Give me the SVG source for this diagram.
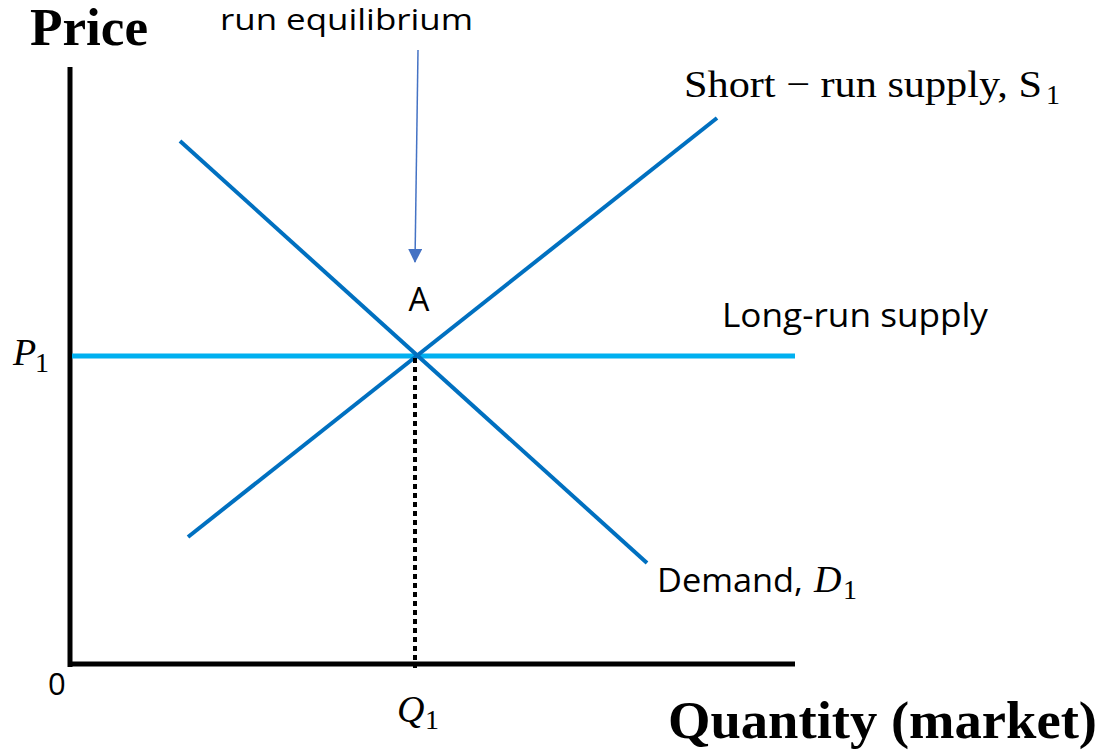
<svg xmlns="http://www.w3.org/2000/svg" width="1104" height="752" viewBox="0 0 1104 752">
<defs>
<marker id="ah" markerWidth="14" markerHeight="14" refX="13" refY="7" orient="auto" markerUnits="userSpaceOnUse" viewBox="0 0 14 14">
<path d="M0,0 L14,7 L0,14 Z" fill="#4472C4"/>
</marker>
<style>
.sans{font-family:"Open Sans","Liberation Sans",sans-serif;fill:#000}
.ser{font-family:"Liberation Serif",serif;fill:#000}
.bold{font-family:"Liberation Serif",serif;font-weight:bold;fill:#000}
.curve{stroke:#0070C0;stroke-width:4;fill:none}
</style>
</defs>
<rect width="1104" height="752" fill="#fff"/>
<g id="axes">
<line x1="70" y1="67" x2="70" y2="667" stroke="#000" stroke-width="5"/>
<line x1="68" y1="664" x2="795" y2="664" stroke="#000" stroke-width="5"/>
</g>
<g id="connectors">
<line id="long-run" x1="72" y1="356" x2="795" y2="356" stroke="#00B0F0" stroke-width="5"/>
<line id="supply" class="curve" x1="188" y1="537" x2="717" y2="118"/>
<line id="demand" class="curve" x1="180" y1="141" x2="647" y2="563"/>
<line id="dotted" x1="415" y1="358" x2="415" y2="668" stroke="#000" stroke-width="4" stroke-dasharray="5,4"/>
<line id="pointer" x1="418" y1="50" x2="415" y2="262" stroke="#4472C4" stroke-width="1.5" marker-end="url(#ah)"/>
</g>
<g id="labels">
<text class="bold" x="30" y="45" font-size="52" textLength="118" lengthAdjust="spacingAndGlyphs">Price</text>
<text class="sans" x="220" y="30" font-size="30" textLength="253" lengthAdjust="spacingAndGlyphs">run equilibrium</text>
<text class="sans" x="419" y="311" font-size="33" text-anchor="middle">A</text>
<text class="sans" x="722" y="327" font-size="33" textLength="266" lengthAdjust="spacingAndGlyphs">Long-run supply</text>
<text class="ser" x="684" y="97" font-size="38" textLength="358" lengthAdjust="spacingAndGlyphs">Short − run supply, S</text>
<text class="ser" x="1046" y="104" font-size="28">1</text>
<text class="sans" x="657" y="592" font-size="33" textLength="146" lengthAdjust="spacingAndGlyphs">Demand,</text>
<text class="ser" x="814" y="592" font-size="38" font-style="italic">D</text>
<text class="ser" x="843" y="599" font-size="28">1</text>
<text class="ser" x="13" y="365" font-size="38" font-style="italic">P</text>
<text class="ser" x="35" y="372" font-size="28">1</text>
<text class="sans" x="48" y="695" font-size="31">0</text>
<text class="ser" x="397" y="722" font-size="38" font-style="italic">Q</text>
<text class="ser" x="425" y="729" font-size="28">1</text>
<text class="bold" x="668" y="738" font-size="53" textLength="429" lengthAdjust="spacingAndGlyphs">Quantity (market)</text>
</g>
</svg>
